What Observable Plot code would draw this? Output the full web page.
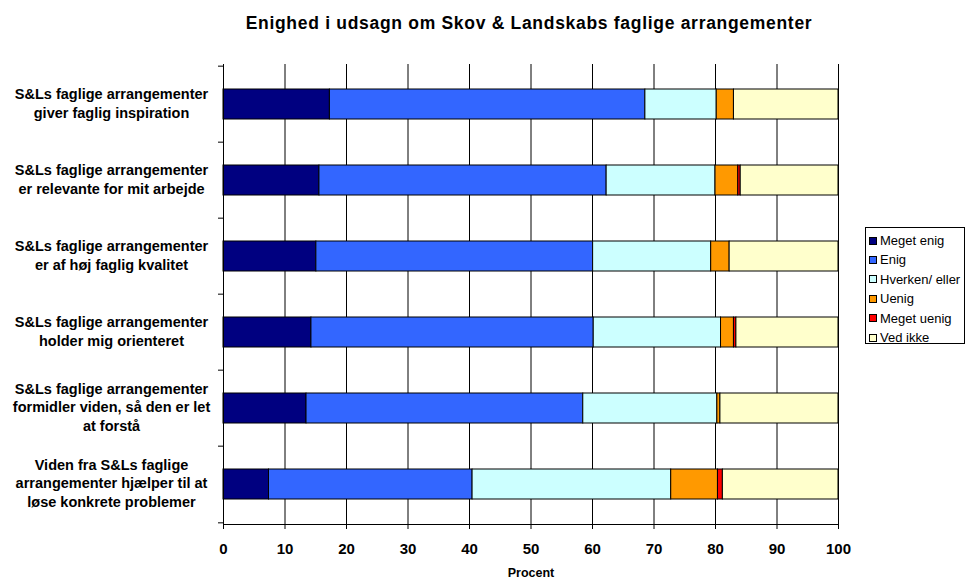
<!DOCTYPE html>
<html><head><meta charset="utf-8">
<script src="https://cdn.jsdelivr.net/npm/d3@7"></script>
<script src="https://cdn.jsdelivr.net/npm/@observablehq/plot@0.6"></script>
<style>
body{margin:0;background:#fff;font-family:"Liberation Sans",Arial,sans-serif;}
#wrap{position:relative;width:966px;height:579px;overflow:hidden;background:#fff;}
#chart{position:absolute;left:0;top:0;}
#title{position:absolute;left:0;width:1058px;top:12px;text-align:center;font-weight:bold;font-size:17.5px;letter-spacing:0.7px;line-height:22px;color:#000;}
#legend{position:absolute;left:865px;top:227px;width:100px;height:117px;border:1px solid #000;box-sizing:border-box;background:#fff;padding-top:3px;}
.item{height:19.4px;line-height:19.4px;font-size:13px;color:#000;white-space:nowrap;display:flex;align-items:center;}
.sw{display:inline-block;width:8px;height:8px;border:1px solid #000;margin-left:3px;margin-right:3px;box-sizing:border-box;}
</style></head><body>
<div id="wrap">
  <div id="chart"></div>
  <div id="title">Enighed i udsagn om Skov &amp; Landskabs faglige arrangementer</div>
  <div id="legend"></div>
</div>
<script>
const categories = [
  "S&Ls faglige arrangementer\ngiver faglig inspiration",
  "S&Ls faglige arrangementer\ner relevante for mit arbejde",
  "S&Ls faglige arrangementer\ner af høj faglig kvalitet",
  "S&Ls faglige arrangementer\nholder mig orienteret",
  "S&Ls faglige arrangementer\nformidler viden, så den er let\nat forstå",
  "Viden fra S&Ls faglige\narrangementer hjælper til at\nløse konkrete problemer"
];
const seriesNames = ["Meget enig", "Enig", "Hverken/ eller", "Uenig", "Meget uenig", "Ved ikke"];
const megetEnig  = [17.3, 15.6, 15.1, 14.3, 13.5, 7.4];
const enig       = [51.3, 46.7, 45.0, 45.9, 45.0, 33.1];
const hverken    = [11.6, 17.7, 19.2, 20.7, 21.8, 32.3];
const uenig      = [2.8, 3.7, 3.0, 2.1, 0.5, 7.6];
const megetUenig = [0, 0.4, 0, 0.4, 0, 0.8];
const vedIkke    = [17.0, 15.9, 17.7, 16.6, 19.2, 18.8];
const seriesColors = ["#000080", "#3366FF", "#CCFFFF", "#FF9900", "#FF0000", "#FFFFCC"];
const xTicks = [0, 10, 20, 30, 40, 50, 60, 70, 80, 90, 100];
const xLabel = "Procent";

const seriesValues = [megetEnig, enig, hverken, uenig, megetUenig, vedIkke];
const data = [];
categories.forEach((c, i) => {
  seriesValues.forEach((arr, j) => {
    data.push({category: c, series: seriesNames[j], value: arr[i]});
  });
});

const H = 579, mT = 64, mB = 55;
const step = (H - mT - mB) / categories.length;

const chart = Plot.plot({
  width: 966, height: H,
  marginLeft: 223, marginRight: 128, marginTop: mT, marginBottom: mB,
  style: {fontFamily: "Liberation Sans, Arial, sans-serif", fontWeight: "bold", background: "transparent", color: "#000"},
  x: {domain: [0, 100], label: null},
  y: {domain: categories, paddingInner: 0.6, paddingOuter: 0.3, label: null},
  color: {domain: seriesNames, range: seriesColors},
  marks: [
    Plot.ruleX(xTicks, {stroke: "#000", strokeWidth: 1}),
    Plot.barX(data, Plot.stackX({x: "value", y: "category", fill: "series", z: "series", stroke: "#000", strokeWidth: 1, filter: d => d.value > 0})),
    Plot.frame({anchor: "bottom", stroke: "#000"}),
    Plot.frame({anchor: "left", stroke: "#000"}),
    Plot.axisX({ticks: xTicks, tickSize: 5, tickPadding: 14, fontSize: 15, label: null, stroke: "#000"}),
    Plot.axisY({tickSize: 5, tickFormat: () => "", dy: -step / 2, label: null}),
    Plot.axisY([categories[categories.length - 1]], {tickSize: 5, tickFormat: () => "", dy: step / 2, label: null}),
    Plot.text(categories, {y: d => d, text: d => d, frameAnchor: "left", dx: -112, dy: -2, textAnchor: "middle", lineAnchor: "middle", fontSize: 14.5, lineHeight: 1.27}),
    Plot.text([xLabel], {text: d => d, frameAnchor: "bottom", dy: 48, lineAnchor: "middle", fontSize: 12.5})
  ]
});
document.getElementById("chart").appendChild(chart);

const legend = document.getElementById("legend");
seriesNames.forEach((name, i) => {
  const row = document.createElement("div");
  row.className = "item";
  const sw = document.createElement("span");
  sw.className = "sw";
  sw.style.background = seriesColors[i];
  row.appendChild(sw);
  row.appendChild(document.createTextNode(name));
  legend.appendChild(row);
});
</script>
</body></html>
